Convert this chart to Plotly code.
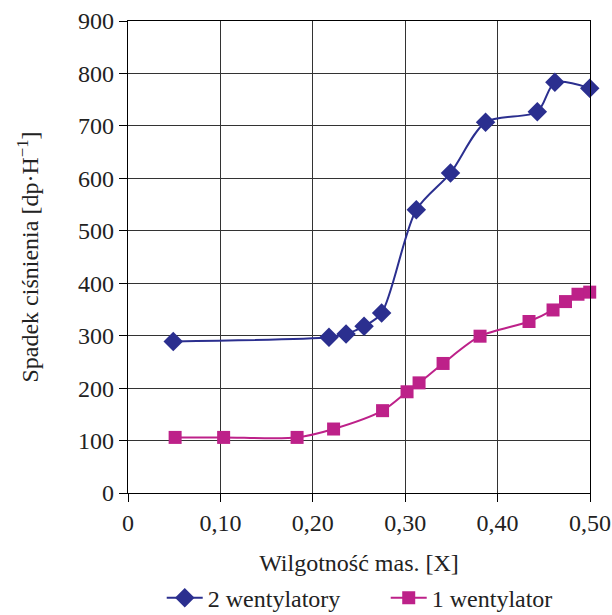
import plotly.graph_objects as go

x_two = [0.049, 0.2175, 0.236, 0.2555, 0.2745, 0.312, 0.349, 0.387, 0.443, 0.462, 0.4997]
y_two = [289, 297, 303, 318, 343, 540, 610, 707, 727, 783, 772]

x_one = [0.051, 0.1035, 0.183, 0.2225, 0.2755, 0.302, 0.315, 0.341, 0.381, 0.434, 0.460, 0.4735, 0.487, 0.4997]
y_one = [106, 106, 106, 122, 157, 193, 210, 247, 299, 327, 349, 365, 379, 383]

x_ticks = [0, 0.1, 0.2, 0.3, 0.4, 0.5]
x_ticktext = ["0", "0,10", "0,20", "0,30", "0,40", "0,50"]
y_ticks = [0, 100, 200, 300, 400, 500, 600, 700, 800, 900]

blue = "#2B2F8F"
magenta = "#BD2189"
font = "Times New Roman"

fig = go.Figure()
fig.add_trace(go.Scatter(
    x=x_two, y=y_two, name="2 wentylatory", mode="lines+markers",
    line=dict(color=blue, width=2, shape="spline", smoothing=0.8),
    marker=dict(symbol="diamond", size=15, color=blue),
    cliponaxis=False,
))
fig.add_trace(go.Scatter(
    x=x_one, y=y_one, name="1 wentylator", mode="lines+markers",
    line=dict(color=magenta, width=2, shape="spline", smoothing=0.8),
    marker=dict(symbol="square", size=13, color=magenta),
    cliponaxis=False,
))

axis_common = dict(
    showline=True, linecolor="black", linewidth=1.3, mirror=True,
    showgrid=True, gridcolor="#333333", gridwidth=1.3,
    ticks="outside", ticklen=8, tickcolor="black",
    zeroline=False, automargin=False, ticklabeloverflow="allow",
    tickfont=dict(family=font, size=24, color="#222"),
)

fig.update_layout(
    width=612, height=615,
    margin=dict(l=128, r=22, t=21, b=122, autoexpand=False),
    paper_bgcolor="white", plot_bgcolor="white",
    font=dict(family=font, size=24, color="#222"),
    xaxis=dict(range=[0, 0.5], tickvals=x_ticks, ticktext=x_ticktext,
               title=dict(text="Wilgotność mas. [X]", font=dict(family=font, size=24), standoff=19),
               **axis_common),
    yaxis=dict(range=[0, 900], tickvals=y_ticks,
               title=dict(text="Spadek ciśnienia [dp·H<sup>−1</sup>]", font=dict(family=font, size=24), standoff=32),
               **axis_common),
    legend=dict(orientation="h", x=0.073, xanchor="left", y=-0.175, yanchor="top",
                font=dict(family=font, size=24), itemwidth=36, entrywidth=173,
                entrywidthmode="pixels", traceorder="normal"),
    showlegend=True,
)

fig.write_html("out.html")
